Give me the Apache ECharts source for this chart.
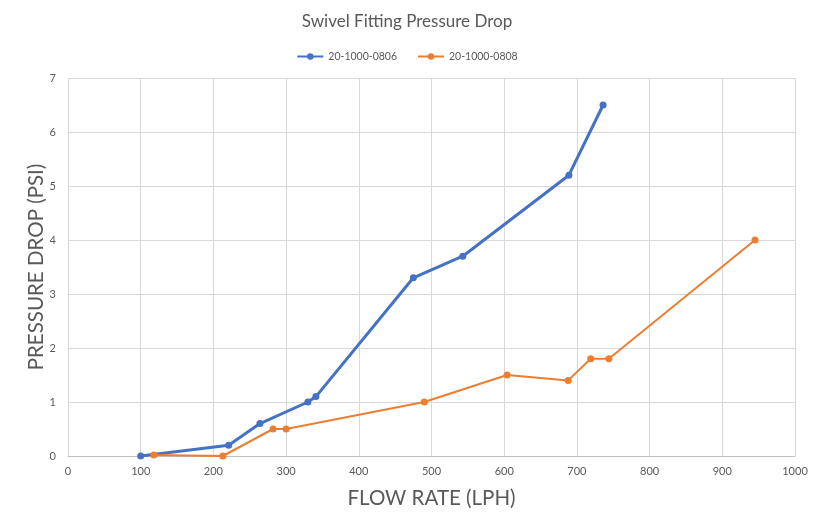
<!DOCTYPE html>
<html><head><meta charset="utf-8">
<script src="https://cdn.jsdelivr.net/npm/echarts@6/dist/echarts.min.js"></script>
<style>html,body{margin:0;padding:0;background:#fff}#c{width:814px;height:521px}</style>
</head><body><div id="c"></div>
<script>
const seriesNames = ['20-1000-0806', '20-1000-0808'];
const flowA = [100, 221, 264, 330, 341, 475, 543, 689, 736];
const dropA = [0, 0.2, 0.6, 1.0, 1.1, 3.3, 3.7, 5.2, 6.5];
const flowB = [118, 213, 282, 300, 490, 604, 688, 719, 744, 945];
const dropB = [0.02, 0, 0.5, 0.5, 1.0, 1.5, 1.4, 1.8, 1.8, 4.0];
const xTicks = {min: 0, max: 1000, interval: 100};
const yTicks = {min: 0, max: 7, interval: 1};

const font = 'Lato, "Open Sans", sans-serif';
const chart = echarts.init(document.getElementById('c'));
chart.setOption({
  animation: false,
  textStyle: {fontFamily: font},
  title: {text: 'Swivel Fitting Pressure Drop', left: 'center', top: 8,
    textStyle: {fontFamily: font, fontSize: 17, fontWeight: 'normal', color: '#595959'}},
  legend: {top: 46, left: 'center', itemGap: 20, itemWidth: 26, itemHeight: 8,
    textStyle: {fontFamily: font, fontSize: 10.5, color: '#595959'},
    data: seriesNames},
  grid: {left: 68, right: 19, top: 78, bottom: 65, containLabel: false},
  xAxis: {type: 'value', min: xTicks.min, max: xTicks.max, interval: xTicks.interval,
    name: 'FLOW RATE (LPH)', nameLocation: 'middle', nameGap: 32,
    nameTextStyle: {fontFamily: font, fontSize: 20.5, color: '#595959'},
    axisLine: {show: true, lineStyle: {color: '#bfbfbf'}}, axisTick: {show: false},
    axisLabel: {color: '#595959', fontSize: 11, margin: 10, formatter: v => String(v)},
    splitLine: {show: true, lineStyle: {color: '#d9d9d9'}}},
  yAxis: {type: 'value', min: yTicks.min, max: yTicks.max, interval: yTicks.interval,
    name: 'PRESSURE DROP (PSI)', nameLocation: 'middle', nameGap: 21, nameMoveOverlap: false,
    nameTextStyle: {fontFamily: font, fontSize: 20.5, color: '#595959'},
    axisLine: {show: false}, axisTick: {show: false},
    axisLabel: {color: '#595959', fontSize: 11, margin: 12},
    splitLine: {show: true, lineStyle: {color: '#d9d9d9'}}},
  series: [
    {name: seriesNames[0], type: 'line', data: flowA.map((x, i) => [x, dropA[i]]),
      symbol: 'circle', symbolSize: 7, color: '#4472C4',
      lineStyle: {width: 3, color: '#4472C4'}, itemStyle: {color: '#4472C4'}},
    {name: seriesNames[1], type: 'line', data: flowB.map((x, i) => [x, dropB[i]]),
      symbol: 'circle', symbolSize: 7, color: '#ED7D31',
      lineStyle: {width: 2, color: '#ED7D31'}, itemStyle: {color: '#ED7D31'}}
  ]
});
</script></body></html>
